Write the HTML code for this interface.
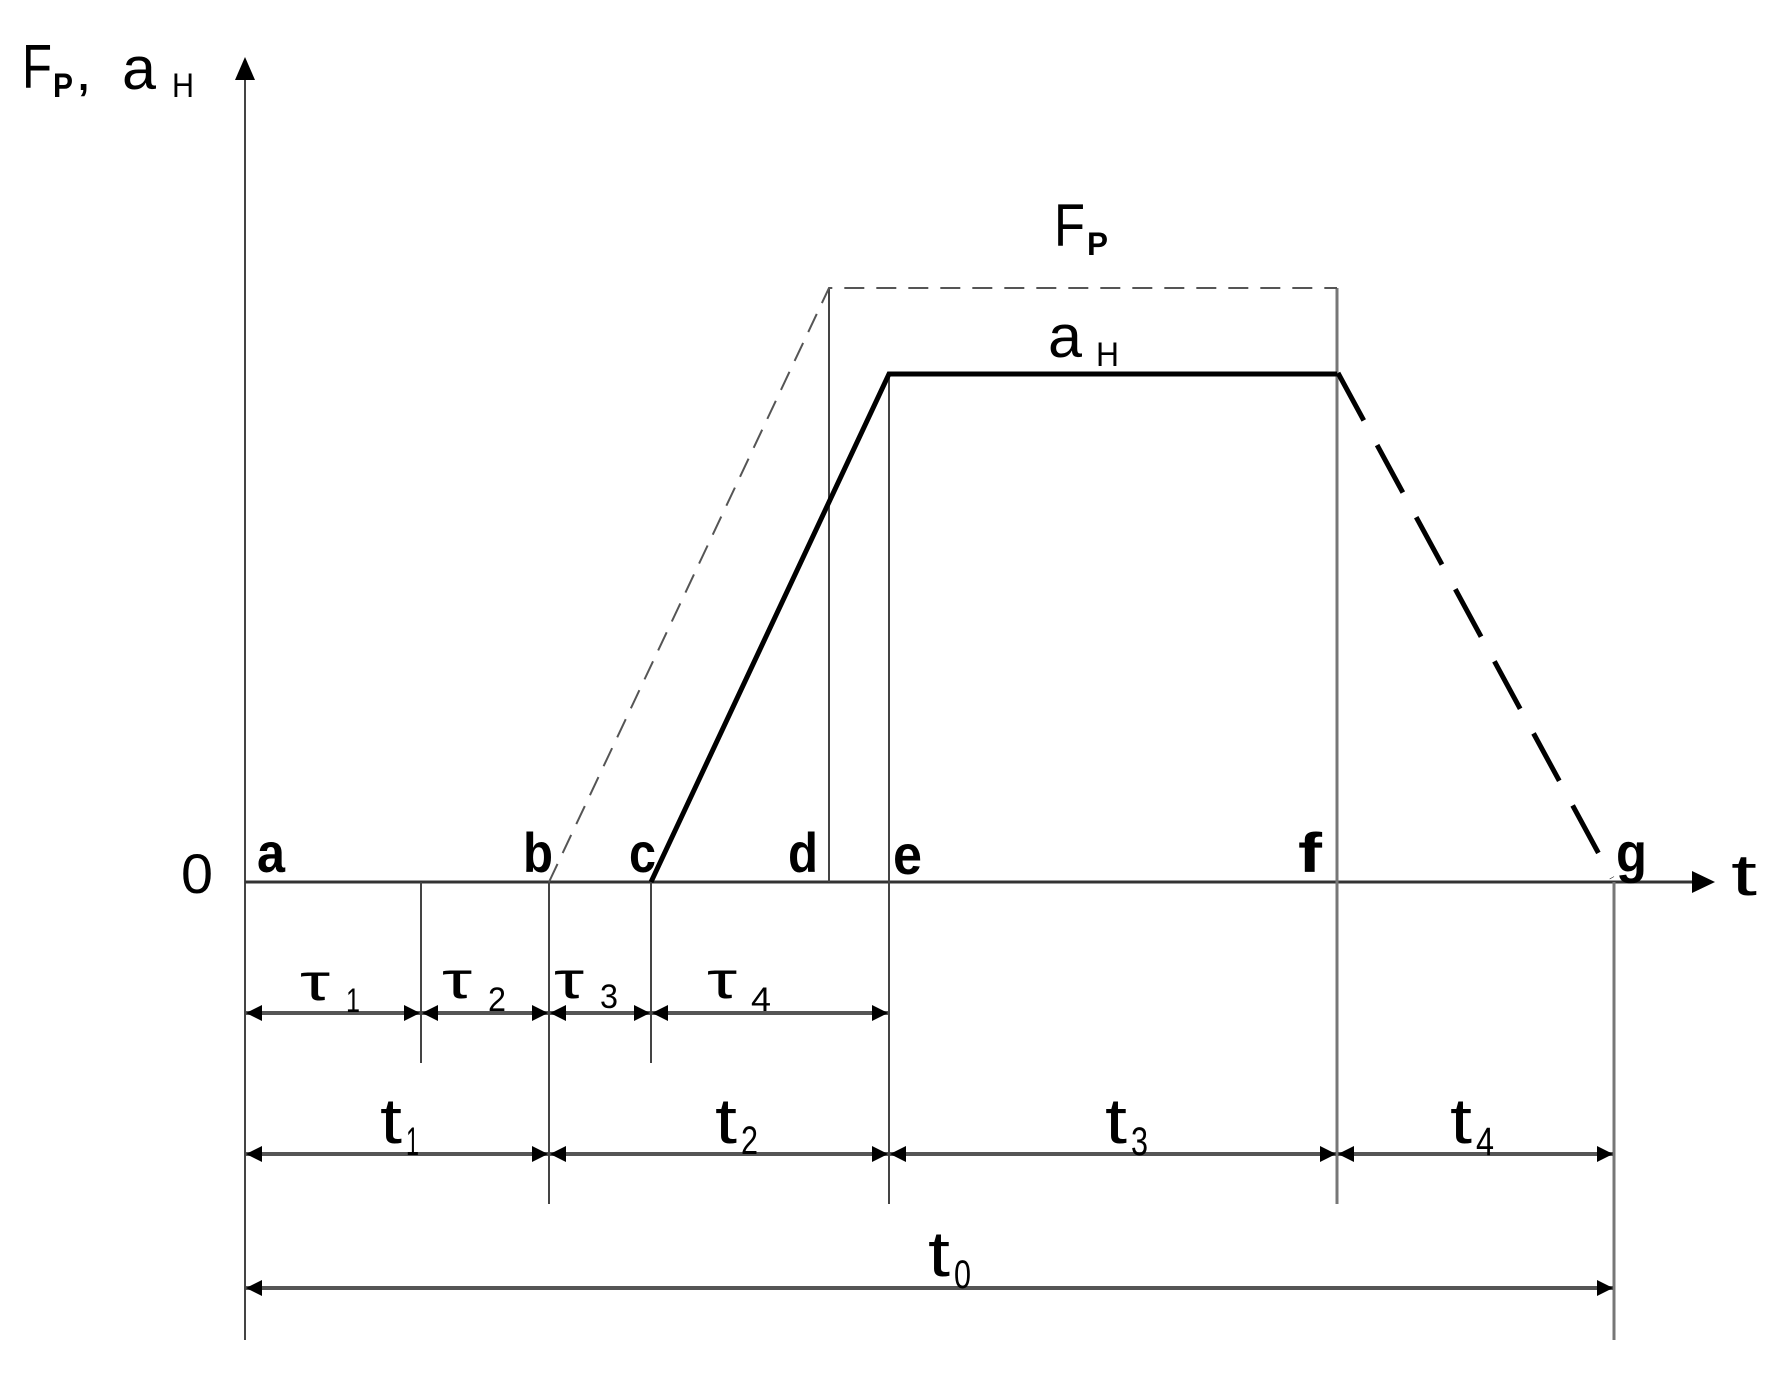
<!DOCTYPE html>
<html><head><meta charset="utf-8"><style>html,body{margin:0;padding:0;background:#fff}svg{display:block}</style></head>
<body>
<svg width="1778" height="1379" viewBox="0 0 1778 1379" xmlns="http://www.w3.org/2000/svg" font-family="Liberation Sans, sans-serif">
<defs>
<marker id="da" markerWidth="16" markerHeight="16" refX="16" refY="8" orient="auto-start-reverse" markerUnits="userSpaceOnUse" viewBox="0 0 16 16">
<path d="M0,0 L16,8 L0,16 z" fill="#000"/></marker>
</defs>
<g stroke="#444" stroke-width="2" fill="none">
<line x1="245" y1="1340" x2="245" y2="80"/>
<line x1="245" y1="882" x2="1695" y2="882" stroke="#333" stroke-width="3"/>
<line x1="421" y1="882" x2="421" y2="1063"/>
<line x1="549" y1="882" x2="549" y2="1204"/>
<line x1="651" y1="882" x2="651" y2="1063"/>
<line x1="829" y1="288" x2="829" y2="882"/>
<line x1="889" y1="374" x2="889" y2="1204"/>
<line x1="1337" y1="288" x2="1337" y2="1204" stroke="#777" stroke-width="3"/>
<line x1="1614" y1="882" x2="1614" y2="1340" stroke="#777" stroke-width="3"/>
<polyline points="549,882 829,288 1337,288" stroke="#555" stroke-width="2" stroke-dasharray="20,12"/>
</g>
<path d="M245,57 L235,80 L255,80 z" fill="#000"/>
<path d="M1715,882 L1692,871 L1692,893 z" fill="#000"/>
<polyline points="651,882 889,374 1337,374" fill="none" stroke="#000" stroke-width="5"/>
<line x1="1338" y1="373" x2="1612" y2="878" stroke="#000" stroke-width="5" stroke-dasharray="54,28"/>
<g stroke="#555" stroke-width="4">
<line x1="246" y1="1013" x2="420" y2="1013" marker-start="url(#da)" marker-end="url(#da)"/>
<line x1="422" y1="1013" x2="548" y2="1013" marker-start="url(#da)" marker-end="url(#da)"/>
<line x1="550" y1="1013" x2="650" y2="1013" marker-start="url(#da)" marker-end="url(#da)"/>
<line x1="652" y1="1013" x2="888" y2="1013" marker-start="url(#da)" marker-end="url(#da)"/>
<line x1="246" y1="1154" x2="548" y2="1154" marker-start="url(#da)" marker-end="url(#da)"/>
<line x1="550" y1="1154" x2="888" y2="1154" marker-start="url(#da)" marker-end="url(#da)"/>
<line x1="890" y1="1154" x2="1336" y2="1154" marker-start="url(#da)" marker-end="url(#da)"/>
<line x1="1338" y1="1154" x2="1613" y2="1154" marker-start="url(#da)" marker-end="url(#da)"/>
<line x1="246" y1="1288" x2="1613" y2="1288" marker-start="url(#da)" marker-end="url(#da)"/>
</g>
<g fill="#000">
<text x="22" y="88" font-size="62" textLength="30" lengthAdjust="spacingAndGlyphs">F</text>
<text x="53" y="97" font-size="34" font-weight="bold" textLength="20" lengthAdjust="spacingAndGlyphs">P</text>
<text x="78" y="90" font-size="40" font-weight="bold">,</text>
<text x="122" y="89" font-size="60" textLength="34" lengthAdjust="spacingAndGlyphs">a</text>
<text x="172" y="97" font-size="34" textLength="22" lengthAdjust="spacingAndGlyphs">H</text>
<text x="1054" y="246" font-size="60" textLength="31" lengthAdjust="spacingAndGlyphs">F</text>
<text x="1087" y="255" font-size="32" font-weight="bold" textLength="21" lengthAdjust="spacingAndGlyphs">P</text>
<text x="1048" y="357" font-size="60" textLength="34" lengthAdjust="spacingAndGlyphs">a</text>
<text x="1096" y="366" font-size="34" textLength="23" lengthAdjust="spacingAndGlyphs">H</text>
<text x="181" y="893" font-size="56" textLength="32" lengthAdjust="spacingAndGlyphs">0</text>
<text x="1731" y="895" font-size="58" textLength="26" lengthAdjust="spacingAndGlyphs">t</text>
<g font-size="56" font-weight="bold">
<text x="257" y="872" textLength="28" lengthAdjust="spacingAndGlyphs">a</text>
<text x="523" y="872" textLength="30" lengthAdjust="spacingAndGlyphs">b</text>
<text x="629" y="872" textLength="27" lengthAdjust="spacingAndGlyphs">c</text>
<text x="788" y="872" textLength="30" lengthAdjust="spacingAndGlyphs">d</text>
<text x="893" y="874" textLength="29" lengthAdjust="spacingAndGlyphs">e</text>
<text x="1298" y="872" textLength="24" lengthAdjust="spacingAndGlyphs">f</text>
<text x="1616" y="872" textLength="31" lengthAdjust="spacingAndGlyphs">g</text>
</g>
<g font-size="52">
<text x="300" y="1000" textLength="30" lengthAdjust="spacingAndGlyphs">τ</text>
<text x="346" y="1012" font-size="34" textLength="14" lengthAdjust="spacingAndGlyphs">1</text>
<text x="442" y="998" textLength="30" lengthAdjust="spacingAndGlyphs">τ</text>
<text x="488" y="1011" font-size="34" textLength="18" lengthAdjust="spacingAndGlyphs">2</text>
<text x="554" y="998" textLength="30" lengthAdjust="spacingAndGlyphs">τ</text>
<text x="600" y="1008" font-size="34" textLength="18" lengthAdjust="spacingAndGlyphs">3</text>
<text x="707" y="998" textLength="30" lengthAdjust="spacingAndGlyphs">τ</text>
<text x="751" y="1011" font-size="34" textLength="20" lengthAdjust="spacingAndGlyphs">4</text>
</g>
<g font-size="64">
<text x="380" y="1143" textLength="22" lengthAdjust="spacingAndGlyphs">t</text>
<text x="406" y="1155" font-size="40" textLength="13" lengthAdjust="spacingAndGlyphs">1</text>
<text x="715" y="1143" textLength="22" lengthAdjust="spacingAndGlyphs">t</text>
<text x="741" y="1154" font-size="40" textLength="17" lengthAdjust="spacingAndGlyphs">2</text>
<text x="1105" y="1143" textLength="22" lengthAdjust="spacingAndGlyphs">t</text>
<text x="1131" y="1155" font-size="40" textLength="17" lengthAdjust="spacingAndGlyphs">3</text>
<text x="1450" y="1143" textLength="22" lengthAdjust="spacingAndGlyphs">t</text>
<text x="1476" y="1155" font-size="40" textLength="18" lengthAdjust="spacingAndGlyphs">4</text>
<text x="928" y="1276" textLength="22" lengthAdjust="spacingAndGlyphs">t</text>
<text x="954" y="1288" font-size="40" textLength="17" lengthAdjust="spacingAndGlyphs">0</text>
</g>
</g>
</svg>
</body></html>
